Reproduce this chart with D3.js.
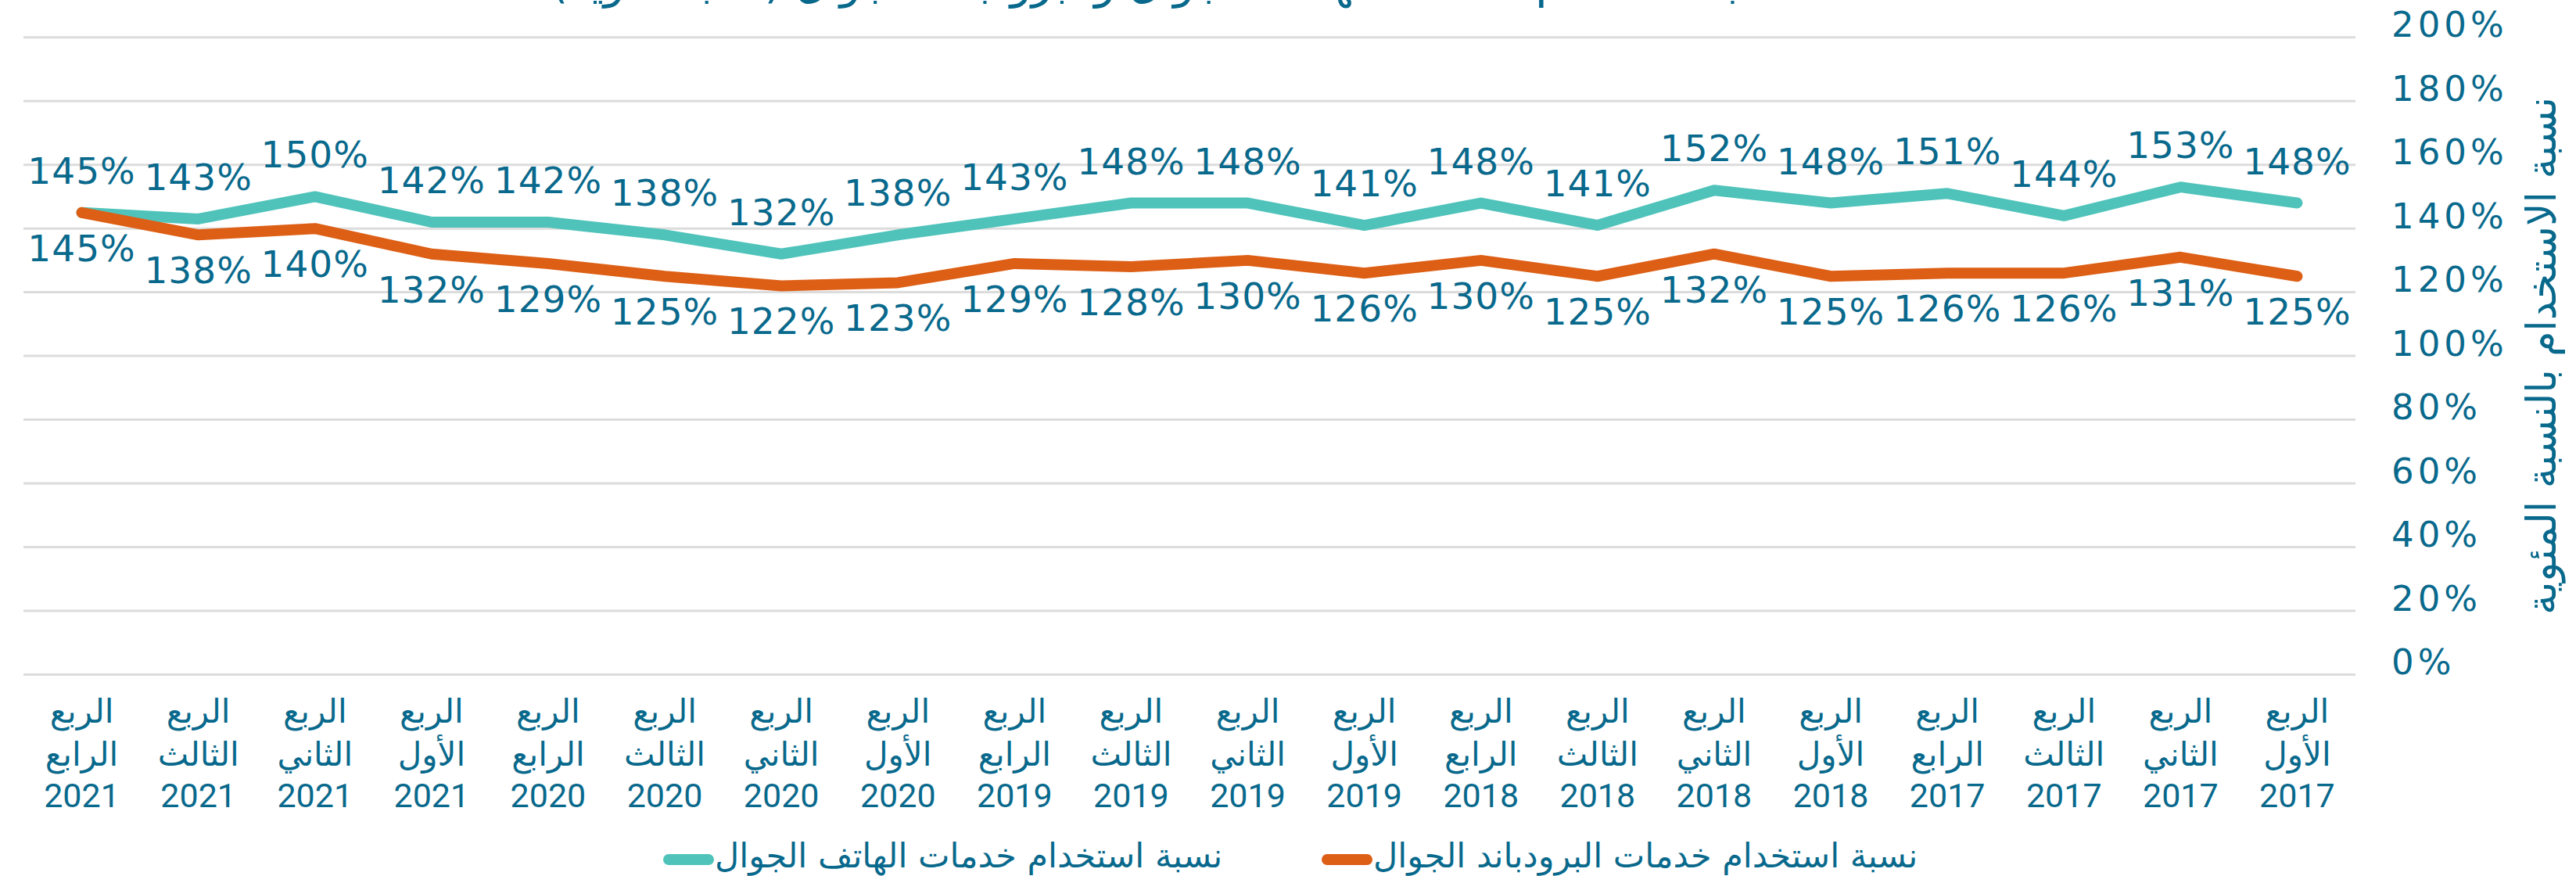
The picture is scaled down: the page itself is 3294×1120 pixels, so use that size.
<!DOCTYPE html>
<html lang="ar">
<head>
<meta charset="utf-8">
<script src="https://cdn.jsdelivr.net/npm/d3@7"></script>
<style>
  html, body { margin: 0; padding: 0; background: #fff; }
  svg { display: block; }
  .num { font-family: "DejaVu Sans", sans-serif; fill: #08698c; }
  .yr { font-family: Roboto, "DejaVu Sans", sans-serif; fill: #08698c; }
  .ar { font-family: "DejaVu Sans", sans-serif; fill: #08698c; }
  .grid line { stroke: #dcdcdc; stroke-width: 3; }
</style>
</head>
<body>
<svg id="chart"></svg>
<script>
// quarter name + year, left to right as in the picture
const quarterNames = [
  "الرابع", "الثالث", "الثاني", "الأول",
  "الرابع", "الثالث", "الثاني", "الأول",
  "الرابع", "الثالث", "الثاني", "الأول",
  "الرابع", "الثالث", "الثاني", "الأول",
  "الرابع", "الثالث", "الثاني", "الأول",
];
const years = [
  "2021", "2021", "2021", "2021",
  "2020", "2020", "2020", "2020",
  "2019", "2019", "2019", "2019",
  "2018", "2018", "2018", "2018",
  "2017", "2017", "2017", "2017",
];

const mobilePhone = [145, 143, 150, 142, 142, 138, 132, 138, 143, 148, 148, 141, 148, 141, 152, 148, 151, 144, 153, 148];
const mobileBroadband = [145, 138, 140, 132, 129, 125, 122, 123, 129, 128, 130, 126, 130, 125, 132, 125, 126, 126, 131, 125];

const yTicks = [0, 20, 40, 60, 80, 100, 120, 140, 160, 180, 200];

const seriesNames = {
  phone: "نسبة استخدام خدمات الهاتف الجوال",
  broadband: "نسبة استخدام خدمات البرودباند الجوال",
};
const yTitle = "نسبة الاستخدام بالنسبة المئوية";
const chartTitle = "نسبة استخدام خدمات الهاتف الجوال والبرودباند الجوال (نسبة مئوية)";

const TEAL = "#4fc3ba";
const ORANGE = "#dd5f16";
const TEXT = "#08698c";

const width = 3294;
const height = 1120;

const svg = d3.select("#chart").attr("width", width).attr("height", height);

const categories = quarterNames.map((q, i) => `${q} ${years[i]}`);

const x = d3.scalePoint().domain(categories).range([30, 3012]).padding(0.5);
const y = d3.scaleLinear().domain([0, 200]).range([862.5, 47.7]);

// title, mostly cut off at the top edge (as in the source image)
svg.append("text").attr("class", "ar")
  .attr("x", 1497).attr("y", -3)
  .attr("text-anchor", "middle")
  .attr("font-size", 56)
  .text(chartTitle);

// grid + right axis labels
const grid = svg.append("g").attr("class", "grid");
yTicks.forEach((t) => {
  grid.append("line")
    .attr("x1", 30).attr("x2", 3012)
    .attr("y1", y(t)).attr("y2", y(t));
});

const yAxis = d3.axisRight(y).tickValues(yTicks).tickSize(0).tickPadding(0).tickFormat((d) => `${d}%`);
const yAxisG = svg.append("g").attr("transform", "translate(3058,0)").call(yAxis);
yAxisG.select(".domain").remove();
yAxisG.selectAll("text")
  .attr("class", "num")
  .attr("font-size", 45)
  .attr("letter-spacing", 5)
  .attr("dy", "-0.02em")
  .attr("fill", TEXT);

svg.append("text").attr("class", "ar")
  .attr("transform", "translate(3250,455) rotate(-90)")
  .attr("text-anchor", "middle")
  .attr("dominant-baseline", "central")
  .attr("font-size", 52)
  .text(yTitle);

// x labels, three lines each
const xLabels = svg.append("g");
categories.forEach((c, i) => {
  const cx = x(c);
  xLabels.append("text").attr("class", "ar")
    .attr("x", cx).attr("y", 924).attr("text-anchor", "middle")
    .attr("font-size", 42).text("الربع");
  xLabels.append("text").attr("class", "ar")
    .attr("x", cx).attr("y", 979).attr("text-anchor", "middle")
    .attr("font-size", 42).text(quarterNames[i]);
  xLabels.append("text").attr("class", "yr")
    .attr("x", cx).attr("y", 1032).attr("text-anchor", "middle")
    .attr("font-size", 43).text(years[i]);
});

// lines
const line = d3.line()
  .x((d, i) => x(categories[i]))
  .y((d) => y(d));

[
  { values: mobilePhone, color: TEAL },
  { values: mobileBroadband, color: ORANGE },
].forEach((s) => {
  svg.append("path")
    .datum(s.values)
    .attr("d", line)
    .attr("fill", "none")
    .attr("stroke", s.color)
    .attr("stroke-width", 14)
    .attr("stroke-linecap", "round")
    .attr("stroke-linejoin", "round");
});

// data labels: phone above, broadband below
mobilePhone.forEach((v, i) => {
  svg.append("text").attr("class", "num")
    .attr("x", x(categories[i])).attr("y", y(v) - 37)
    .attr("text-anchor", "middle")
    .attr("font-size", 47).attr("letter-spacing", 1)
    .text(`${v}%`);
});
mobileBroadband.forEach((v, i) => {
  svg.append("text").attr("class", "num")
    .attr("x", x(categories[i])).attr("y", y(v) + 62)
    .attr("text-anchor", "middle")
    .attr("font-size", 47).attr("letter-spacing", 1)
    .text(`${v}%`);
});

// legend
const legend = [
  { name: seriesNames.phone, color: TEAL, x0: 848 },
  { name: seriesNames.broadband, color: ORANGE, x0: 1690 },
];
legend.forEach((item) => {
  svg.append("line")
    .attr("x1", item.x0 + 7).attr("x2", item.x0 + 58)
    .attr("y1", 1099).attr("y2", 1099)
    .attr("stroke", item.color).attr("stroke-width", 14)
    .attr("stroke-linecap", "round");
  svg.append("text").attr("class", "ar")
    .attr("x", item.x0 + 66).attr("y", 1109)
    .attr("font-size", 43)
    .text(item.name);
});
</script>
</body>
</html>
